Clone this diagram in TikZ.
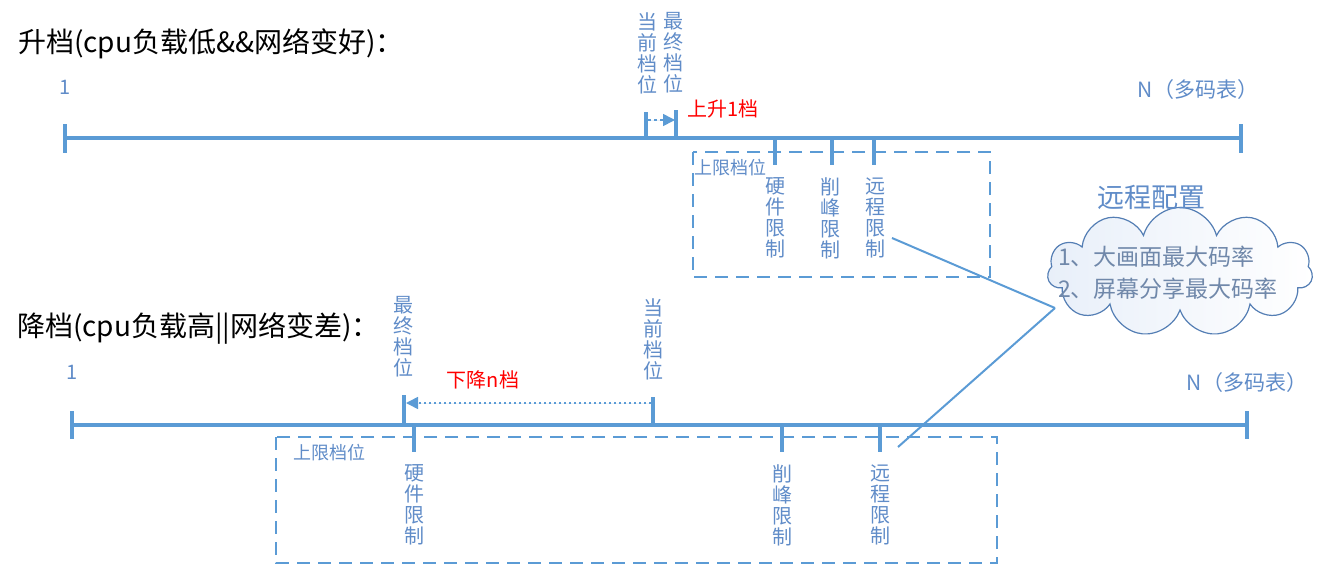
\documentclass[tikz,border=0pt]{standalone}
\usepackage{fontspec}
\setmainfont{Noto Sans CJK SC}
\usetikzlibrary{arrows.meta,shapes.symbols,positioning}
\definecolor{axisblue}{RGB}{91,155,213}
\definecolor{lblblue}{RGB}{96,140,200}
\definecolor{cloudline}{RGB}{84,126,180}
\definecolor{cloudtxt}{RGB}{112,136,170}
\definecolor{cloudfill}{RGB}{232,239,249}
\tikzstyle{axis} = [draw=axisblue, line width=3.4pt]
\tikzstyle{tick} = [draw=axisblue, line width=3.4pt]
\tikzstyle{limbox} = [draw=axisblue, line width=2pt, dash pattern=on 13pt off 8pt]
\tikzstyle{vlbl} = [text=lblblue, font=\fontsize{20}{21}\selectfont, align=center, inner sep=0pt]
\tikzstyle{title} = [font=\fontsize{28}{31}\selectfont, anchor=west, inner sep=0pt]
\tikzstyle{num} = [text=lblblue, font=\fontsize{20}{22}\selectfont, inner sep=0pt]
\tikzstyle{gear} = [text=red, font=\fontsize{20}{22}\selectfont, inner sep=0pt]
\tikzstyle{boxlbl} = [text=lblblue, font=\fontsize{18}{20}\selectfont, inner sep=0pt]
\tikzstyle{cfgtxt} = [text=cloudtxt, font=\fontsize{23}{26}\selectfont, anchor=west, inner sep=0pt]

\begin{document}
\begin{tikzpicture}[x=1pt,y=-1pt,>={Triangle[length=12pt,width=12pt]}]
  \useasboundingbox (0,0) rectangle (1332,576);

  % upgrade
  \node[title] (t1) at (18,44) {升档(cpu负载低\&\&网络变好)：};
  \node[num]   (one1) at (65,87) {1};
  \node[num,font=\fontsize{21}{24}\selectfont] (n1) at (1198,90) {N（多码表）};
  \draw[axis] (65,138) -- (1241,138);
  \draw[tick] (65,124) -- (65,153);
  \draw[tick] (1241,124) -- (1241,153);

  \node[vlbl] (cur1) at (647,53) {当\\前\\档\\位};
  \node[vlbl] (fin1) at (673,53) {最\\终\\档\\位};
  \draw[tick] (646,112) -- (646,138);
  \draw[tick] (676,110) -- (676,138);
  \draw[->, draw=axisblue, fill=axisblue, line width=1.6pt, dash pattern=on 3pt off 3pt] (648,120) -- (675,120);
  \node[gear] (up) at (723,109) {上升1档};

  \draw[limbox] (693,152) rectangle (990,277);
  \node[boxlbl] (lim1) at (730,168) {上限档位};
  \draw[tick] (775,138) -- (775,165);
  \draw[tick] (832,138) -- (832,165);
  \draw[tick] (874,138) -- (874,165);
  \node[vlbl] (hw1) at (775,218) {硬\\件\\限\\制};
  \node[vlbl] (pk1) at (830,218) {削\\峰\\限\\制};
  \node[vlbl] (rc1) at (875,218) {远\\程\\限\\制};

  % downgrade
  \node[title] (t2) at (17,328) {降档(cpu负载高||网络变差)：};
  \node[num]   (one2) at (72,372) {1};
  \node[num,font=\fontsize{21}{24}\selectfont] (n2) at (1247,383) {N（多码表）};
  \draw[axis] (72,425) -- (1247,425);
  \draw[tick] (72,411) -- (72,439);
  \draw[tick] (1247,411) -- (1247,439);

  \node[vlbl] (fin2) at (403,337) {最\\终\\档\\位};
  \node[vlbl] (cur2) at (653,339) {当\\前\\档\\位};
  \draw[tick] (404,395) -- (404,425);
  \draw[tick] (653,397) -- (653,425);
  \draw[->, draw=axisblue, fill=axisblue, line width=1.6pt, dash pattern=on 2.5pt off 2.5pt] (651,403) -- (406,403);
  \node[gear] (down) at (483,380) {下降n档};

  \draw[limbox] (276,437) rectangle (997,563);
  \node[boxlbl] (lim2) at (329,453) {上限档位};
  \draw[tick] (414,425) -- (414,452);
  \draw[tick] (782,425) -- (782,452);
  \draw[tick] (880,425) -- (880,452);
  \node[vlbl] (hw2) at (414,505) {硬\\件\\限\\制};
  \node[vlbl] (pk2) at (782,505) {削\\峰\\限\\制};
  \node[vlbl] (rc2) at (880,505) {远\\程\\限\\制};

  % remote config
  \node[cloud, cloud puffs=11, aspect=2, draw=cloudline, line width=1.2pt,
        left color=cloudfill, right color=white, minimum width=265pt,
        minimum height=129pt, inner sep=0pt] (cfg) at (1180,272) {};
  \node[text=lblblue, font=\fontsize{27}{30}\selectfont, inner sep=0pt] (cfgt) at (1151,197) {远程配置};
  \node[cfgtxt] (c1) at (1058,257) {1、大画面最大码率};
  \node[cfgtxt] (c2) at (1058,289) {2、屏幕分享最大码率};

  \coordinate (cp) at (1055,308);
  \coordinate (p1) at (892,238);
  \coordinate (p2) at (898,447);
  \path[draw=axisblue, line width=2pt] (p1) edge (cp)
                                       (p2) edge (cp);
\end{tikzpicture}
\end{document}
